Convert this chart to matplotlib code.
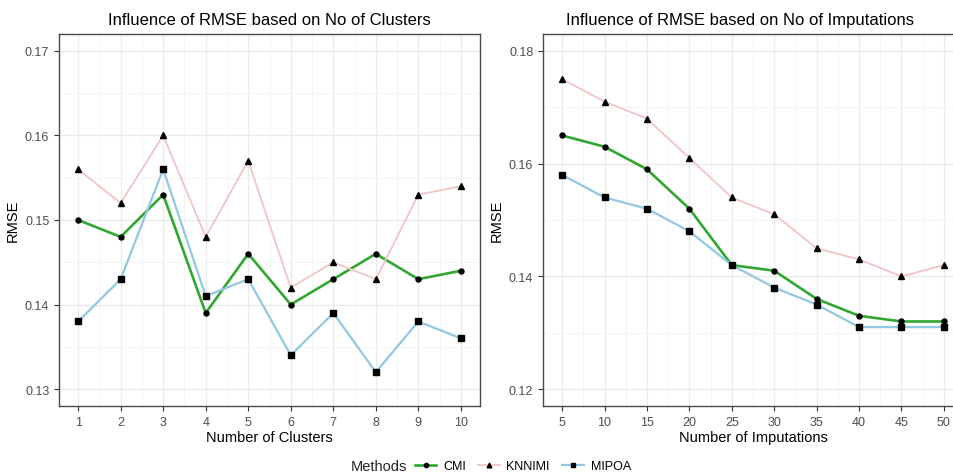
import matplotlib

matplotlib.use("Agg")
import matplotlib.pyplot as plt  # noqa: E402
from matplotlib.lines import Line2D  # noqa: E402
from matplotlib.ticker import MultipleLocator  # noqa: E402

plt.rcParams["font.family"] = ["Liberation Sans", "DejaVu Sans"]

# ---------------------------------------------------------------- data
CLUSTERS = [1, 2, 3, 4, 5, 6, 7, 8, 9, 10]
CL_CMI = [0.150, 0.148, 0.153, 0.139, 0.146, 0.140, 0.143, 0.146, 0.143, 0.144]
CL_KNNIMI = [0.156, 0.152, 0.160, 0.148, 0.157, 0.142, 0.145, 0.143, 0.153, 0.154]
CL_MIPOA = [0.138, 0.143, 0.156, 0.141, 0.143, 0.134, 0.139, 0.132, 0.138, 0.136]

IMPUTATIONS = [5, 10, 15, 20, 25, 30, 35, 40, 45, 50]
IM_CMI = [0.165, 0.163, 0.159, 0.152, 0.142, 0.141, 0.136, 0.133, 0.132, 0.132]
IM_KNNIMI = [0.175, 0.171, 0.168, 0.161, 0.154, 0.151, 0.145, 0.143, 0.140, 0.142]
IM_MIPOA = [0.158, 0.154, 0.152, 0.148, 0.142, 0.138, 0.135, 0.131, 0.131, 0.131]

METHODS = ["CMI", "KNNIMI", "MIPOA"]
COLORS = {"CMI": "#30a830", "KNNIMI": "#f2c4c4", "MIPOA": "#92c8e2"}
MARKERS = {"CMI": "o", "KNNIMI": "^", "MIPOA": "s"}
WIDTHS = {"CMI": 1.9, "KNNIMI": 1.3, "MIPOA": 1.6}
MSIZE = {"CMI": 3.6, "KNNIMI": 4.0, "MIPOA": 3.8}

GRID = "#ebebeb"
TICK = "#4d4d4d"


def style_axes(ax, xmaj, xmin, ymaj, ymin):
    ax.xaxis.set_major_locator(MultipleLocator(xmaj))
    ax.xaxis.set_minor_locator(MultipleLocator(xmin))
    ax.yaxis.set_major_locator(MultipleLocator(ymaj))
    ax.yaxis.set_minor_locator(MultipleLocator(ymin))
    ax.grid(which="major", color=GRID, lw=1.0, zorder=0)
    ax.grid(which="minor", color="#f3f3f3", lw=0.6, zorder=0)
    ax.set_axisbelow(True)
    for sp in ax.spines.values():
        sp.set_color("#4a4a4a")
        sp.set_linewidth(1.0)
    ax.tick_params(which="major", length=3.5, color="#333333", labelcolor=TICK,
                   labelsize=9, width=0.8)
    ax.tick_params(which="minor", length=0)


def draw(ax, x, series):
    for m in METHODS:
        ax.plot(x, series[m], color=COLORS[m], lw=WIDTHS[m], zorder=3)
    for m in METHODS:
        ax.plot(x, series[m], ls="none", marker=MARKERS[m], color="black",
                ms=MSIZE[m], zorder=4)


fig = plt.figure(figsize=(9.54, 4.77), dpi=100)
W, H = 954, 477
ax1 = fig.add_axes([59 / W, 70 / H, 421 / W, 372 / H])
ax2 = fig.add_axes([543 / W, 70 / H, 420 / W, 372 / H])

# ============================================================ left: clusters
draw(ax1, CLUSTERS, {"CMI": CL_CMI, "KNNIMI": CL_KNNIMI, "MIPOA": CL_MIPOA})
style_axes(ax1, 1, 0.5, 0.01, 0.005)
ax1.set_xlim(0.55, 10.45)
ax1.set_ylim(0.128, 0.172)
ax1.set_xticks(CLUSTERS)
ax1.set_yticks([0.13, 0.14, 0.15, 0.16, 0.17])
ax1.set_yticklabels(["0.13", "0.14", "0.15", "0.16", "0.17"])
ax1.set_xlabel("Number of Clusters", fontsize=10.5, labelpad=2)
ax1.set_ylabel("RMSE", fontsize=10.5)
ax1.set_title("Influence of RMSE based on No of Clusters", fontsize=12, pad=7)

# ============================================================ right: imputations
draw(ax2, IMPUTATIONS, {"CMI": IM_CMI, "KNNIMI": IM_KNNIMI, "MIPOA": IM_MIPOA})
style_axes(ax2, 5, 2.5, 0.02, 0.01)
ax2.set_xlim(2.75, 52.25)
ax2.set_ylim(0.117, 0.183)
ax2.set_xticks(IMPUTATIONS)
ax2.set_yticks([0.12, 0.14, 0.16, 0.18])
ax2.set_yticklabels(["0.12", "0.14", "0.16", "0.18"])
ax2.set_xlabel("Number of Imputations", fontsize=10.5, labelpad=2)
ax2.set_ylabel("RMSE", fontsize=10.5)
ax2.set_title("Influence of RMSE based on No of Imputations", fontsize=12, pad=7)
ax2.title.set_x(0.47)

# ============================================================ legend (title on the left, ggplot style)
fig.text(351 / W, 1 - 467 / H, "Methods", fontsize=10.5, color="#222222",
         ha="left", va="center")
handles = [Line2D([], [], color=COLORS[m], lw=WIDTHS[m], marker=MARKERS[m],
                  mfc="black", mec="black", ms=MSIZE[m] * 0.85) for m in METHODS]
fig.legend(handles, METHODS, loc="center left", bbox_to_anchor=(415 / W, 1 - 467 / H),
           ncol=3, frameon=False, fontsize=9, handlelength=1.7, columnspacing=1.0,
           handletextpad=0.55, borderpad=0, borderaxespad=0)

fig.savefig("out.png", dpi=100)
